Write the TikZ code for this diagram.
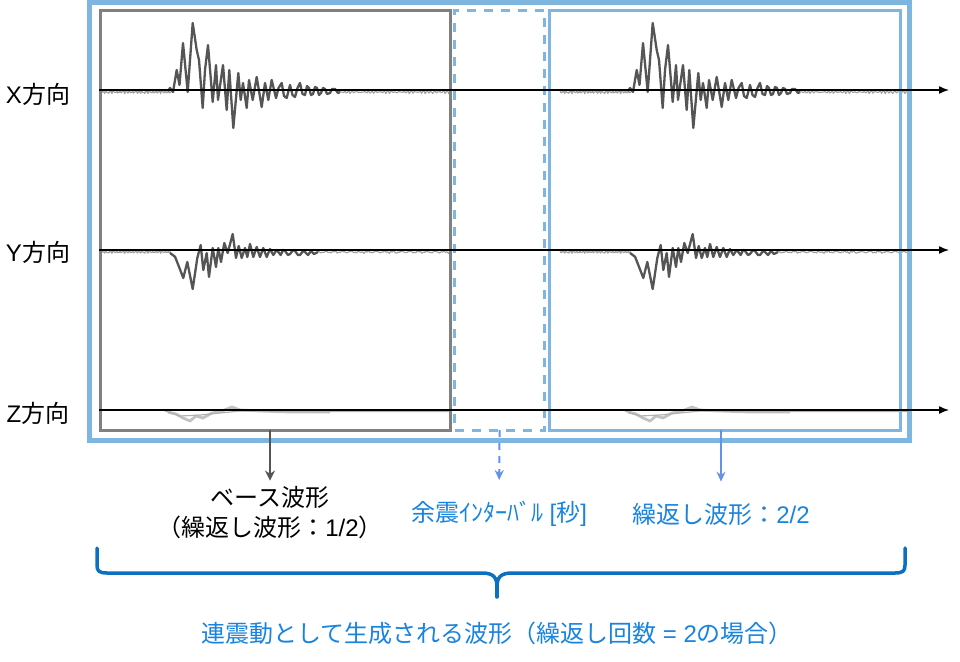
\documentclass[tikz,border=0pt]{standalone}
\usepackage{fontspec}
\setmainfont{Noto Sans CJK JP}
\newfontfamily\latinfont{Liberation Sans}
\newcommand{\lt}[1]{{\latinfont #1}}
\usetikzlibrary{arrows.meta}
\definecolor{frameblue}{RGB}{126,182,223}
\definecolor{txtblue}{RGB}{24,132,224}
\definecolor{braceblue}{RGB}{12,112,192}
\definecolor{boxgray}{RGB}{128,128,128}
\definecolor{wavegray}{RGB}{85,85,85}
\tikzset{
  wave/.style={draw=wavegray, line width=2.3pt, line join=round},
  wavethin/.style={draw=gray!75, line width=1.1pt, line join=round},
  zwave/.style={draw=gray!80, line width=2.8pt, opacity=0.6, line join=round},
  axisline/.style={draw=black, line width=1.4pt, -{Latex[length=10pt,width=8pt]}},
  frame/.style={draw=frameblue, line width=5pt, inner sep=0pt, outer sep=0pt, anchor=north west},
  basebox/.style={draw=boxgray, line width=3pt, inner sep=0pt, outer sep=0pt, anchor=north west},
  gapbox/.style={draw=frameblue, line width=3pt, dash pattern=on 9pt off 8pt, inner sep=0pt, outer sep=0pt, anchor=north west},
  repbox/.style={draw=frameblue, line width=3pt, inner sep=0pt, outer sep=0pt, anchor=north west},
  lbl/.style={font=\fontsize{24pt}{30pt}\selectfont, inner sep=2pt},
  bluelbl/.style={lbl, text=txtblue},
  garrow/.style={draw=wavegray, line width=2pt, -{Stealth[length=10pt,width=10pt]}},
  barrow/.style={draw=frameblue!80!blue, line width=2pt, -{Stealth[length=10pt,width=9pt]}},
  bdarrow/.style={barrow, dash pattern=on 7pt off 6pt},
  bracestyle/.style={draw=braceblue, line width=3.5pt, line cap=round, line join=round},
}
\newcommand{\noiseX}[4]{plot[domain=#1:#2,samples=90] (\x,{#3+#4*sin(mod(\x,36)*157)*cos(mod(\x,36)*43)})}
\newcommand{\wavesall}{%
  % X direction
  \draw[wavethin] \noiseX{100}{171}{92}{1.8};
  \draw[wave] (168,91) -- (170,88) -- (173,92) -- (176.7,70) -- (179.5,85) -- (183,43) -- (187.7,92)
    -- (192.7,23) -- (196.7,50) -- (199,60) -- (202.7,108) -- (205,70) -- (208,45) -- (212.7,102)
    -- (216,65) -- (218,100) -- (223,65) -- (226.7,110) -- (229.3,70) -- (233.3,128)
    -- (238.3,73) -- (240.7,100) -- (243,83) -- (246.7,108) -- (249,80) -- (252.7,100)
    -- (256.7,77) -- (261.7,107) -- (265,83) -- (268.3,100) -- (271.7,80) -- (276,98)
    -- (278.5,88) -- (281.7,83) -- (284,96) -- (286.7,98) -- (290,85) -- (292.5,95) -- (295,97) -- (297.5,88) -- (300,83) -- (302.5,94) -- (305,95)
    -- (307,86) -- (309,88) -- (311,95) -- (313,94) -- (315,87) -- (317,88) -- (319,95) -- (321,93)
    -- (323,88) -- (325,89) -- (327,94) -- (330,93) -- (332,89) -- (335,89) -- (338,93) -- (340,92);
  \draw[wavethin] \noiseX{340}{450}{92}{1.8};
  % Y direction
  \draw[wavethin] \noiseX{100}{171}{252}{1.4};
  \draw[wave] (170,253) -- (175,256.7) -- (178.3,265) -- (183.3,278) -- (187.3,262)
    -- (192.7,289) -- (197.3,258) -- (200.7,245) -- (203.3,270) -- (206.7,253) -- (209,277)
    -- (212.7,248) -- (216,267) -- (218.3,248) -- (221,262) -- (224.3,243) -- (227.7,253)
    -- (232.7,234) -- (236,258) -- (238.7,246) -- (241.7,258) -- (245,248) -- (247.3,257)
    -- (250,244) -- (253.3,257) -- (256.7,247) -- (260,257) -- (263.3,248) -- (266.7,257)
    -- (270,249) -- (273.3,255) -- (276.7,250) -- (280.7,255) -- (283,250) -- (285,251) -- (288,255) -- (290,254)
    -- (293,250) -- (295,251) -- (298,255) -- (300,255) -- (303,251) -- (305,252) -- (308,255) -- (311,251) -- (314,254) -- (318,252);
  \draw[wavethin] \noiseX{318}{450}{252}{1.4};
  % Z direction
  \draw[zwave] (168,412) -- (176,414) -- (183,418) -- (190,421) -- (196,416) -- (203,418)
    -- (212,413) -- (222,411) -- (232,407) -- (240,410) -- (260,411) -- (290,412) -- (330,412);
  \draw[draw=gray!60, line width=1.2pt] (165,411) -- (180,416) -- (200,415) -- (240,411) -- (330,411.5) -- (450,411.5);
}
\begin{document}
\begin{tikzpicture}[x=1pt,y=-1pt]
\useasboundingbox (0,0) rectangle (960,661);
% waveforms
\wavesall
\begin{scope}[xshift=460pt]
\wavesall
\end{scope}
% boxes
\node[frame, minimum width=820pt, minimum height=437.5pt] (outer) at (89.5,2.5) {};
\node[basebox, minimum width=350pt, minimum height=419.5pt] (base) at (100,10.5) {};
\node[gapbox, minimum width=90.2pt, minimum height=419.5pt] (gap) at (454.5,10.5) {};
\node[repbox, minimum width=351pt, minimum height=419.5pt] (rep) at (549,10.5) {};
% axes
\coordinate (xs) at (99,90);  \coordinate (xe) at (949,90);
\coordinate (ys) at (99,250); \coordinate (ye) at (949,250);
\coordinate (zs) at (99,410); \coordinate (ze) at (949,410);
\draw[axisline] (xs) -- (xe);
\draw[axisline] (ys) -- (ye);
\draw[axisline] (zs) -- (ze);
% axis labels
\node[lbl] (lx) at (38,94) {\lt{X}方向};
\node[lbl] (ly) at (38,252) {\lt{Y}方向};
\node[lbl] (lz) at (38,413) {\lt{Z}方向};
% bottom labels
\node[lbl, align=center] (baselbl) at (270,513) {ベース波形\\（繰返し波形：\lt{1/2}）};
\node[bluelbl] (gaplbl) at (499,514) {余震ｲﾝﾀｰﾊﾞﾙ\lt{ [}秒\lt{]}};
\node[bluelbl] (replbl) at (721,514) {繰返し波形：\lt{2/2}};
\draw[garrow, shorten >=4pt] (base.south -| baselbl.north) -- (baselbl.north);
\draw[bdarrow, shorten >=19pt] (gap.south) -- (gaplbl.north);
\draw[barrow, shorten >=19pt] (rep.south -| replbl.north) -- (replbl.north);
% brace
\coordinate (bl) at (97,548);
\coordinate (br) at (905,548);
\coordinate (btip) at (497,597);
\draw[bracestyle] (bl) -- (97,565) .. controls (97,571) and (99,573) .. (107,573) -- (482,573)
  .. controls (494,573) and (497,578) .. (497,587) .. controls (497,578) and (500,573) .. (512,573)
  -- (895,573) .. controls (903,573) and (905,571) .. (905,565) -- (br);
\draw[bracestyle] (497,584) -- (btip);
\node[bluelbl] (total) at (497,633) {連震動として生成される波形（繰返し回数\lt{ = 2}の場合）};
\end{tikzpicture}
\end{document}
